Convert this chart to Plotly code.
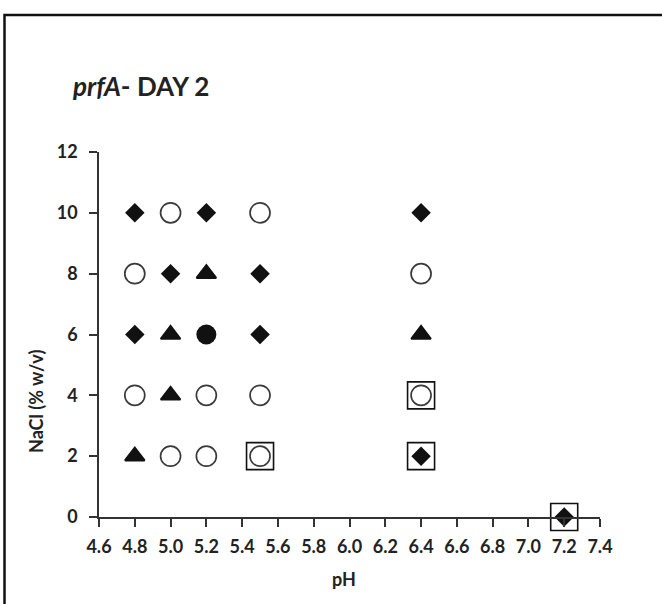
import plotly.graph_objects as go

# Data: pH (x), NaCl % w/v (y)
diamond_ph = [4.8, 4.8, 5.0, 5.2, 5.5, 5.5, 6.4, 6.4, 7.2]
diamond_nacl = [10, 6, 8, 10, 8, 6, 10, 2, 0]

open_circle_ph = [4.8, 4.8, 5.0, 5.0, 5.2, 5.2, 5.5, 5.5, 5.5, 6.4, 6.4]
open_circle_nacl = [8, 4, 10, 2, 4, 2, 10, 4, 2, 8, 4]

triangle_ph = [4.8, 5.0, 5.0, 5.2, 6.4]
triangle_nacl = [2, 6, 4, 8, 6]

filled_circle_ph = [5.2]
filled_circle_nacl = [6]

boxed_ph = [5.5, 6.4, 6.4, 7.2]
boxed_nacl = [2, 4, 2, 0]

x_ticks = [4.6, 4.8, 5.0, 5.2, 5.4, 5.6, 5.8, 6.0, 6.2, 6.4, 6.6, 6.8, 7.0, 7.2, 7.4]
x_tick_labels = [f"{v:.1f}" for v in x_ticks]
y_ticks = [0, 2, 4, 6, 8, 10, 12]

FONT = "Lato, 'Open Sans', sans-serif"
INK = "#222"

# plot area in pixels
L, R, T, B = 99, 600, 152, 517
W, H = 662, 604


def px(xp):
    return (xp - L) / (R - L)


def py(yp):
    return (B - yp) / (B - T)


fig = go.Figure()
fig.add_trace(go.Scatter(x=boxed_ph, y=boxed_nacl, mode="markers", cliponaxis=False,
                         marker=dict(symbol="square-open", size=27, color="#111",
                                     line=dict(width=1.6, color="#111"))))
fig.add_trace(go.Scatter(x=diamond_ph, y=diamond_nacl, mode="markers", cliponaxis=False,
                         marker=dict(symbol="diamond", size=15, color="#111",
                                     line=dict(width=0))))
fig.add_trace(go.Scatter(x=open_circle_ph, y=open_circle_nacl, mode="markers", cliponaxis=False,
                         marker=dict(symbol="circle-open", size=20, color="#3a3a3a",
                                     line=dict(width=1.7, color="#3a3a3a"))))
fig.add_trace(go.Scatter(x=triangle_ph, y=triangle_nacl, mode="markers", cliponaxis=False,
                         marker=dict(symbol="triangle-up", size=17, color="#111",
                                     line=dict(width=2, color="#111"))))
fig.add_trace(go.Scatter(x=filled_circle_ph, y=filled_circle_nacl, mode="markers", cliponaxis=False,
                         marker=dict(symbol="circle", size=20, color="#111",
                                     line=dict(width=0))))

fig.update_layout(
    width=W, height=H,
    margin=dict(l=L, r=W - R, t=T, b=H - B),
    paper_bgcolor="white", plot_bgcolor="white",
    showlegend=False,
    font=dict(family=FONT, size=18, color=INK),
    xaxis=dict(range=[4.6, 7.4], tickvals=x_ticks, ticktext=x_tick_labels,
               showgrid=False, zeroline=False, showline=True, linecolor="#333",
               linewidth=1.5, ticks="outside", ticklen=8, tickcolor="#333",
               tickwidth=1.5, ticklabelstandoff=5,
               tickfont=dict(family=FONT, size=18, color=INK, weight="bold")),
    yaxis=dict(range=[0, 12], tickvals=y_ticks,
               showgrid=False, zeroline=False, showline=True, linecolor="#333",
               linewidth=1.5, ticks="outside", ticklen=8, tickcolor="#333",
               tickwidth=1.5, ticklabelstandoff=8,
               tickfont=dict(family=FONT, size=18, color=INK, weight="bold")),
    annotations=[
        dict(text="<b><i>prfA</i>- DAY 2</b>", xref="paper", yref="paper",
             x=px(70), y=py(86), xanchor="left", yanchor="middle",
             showarrow=False, font=dict(family=FONT, size=26, color=INK)),
        dict(text="<b>pH</b>", xref="paper", yref="paper",
             x=px(344), y=py(579), xanchor="center", yanchor="middle",
             showarrow=False, font=dict(family=FONT, size=18, color=INK)),
        dict(text="<b>NaCl (% w/v)</b>", xref="paper", yref="paper",
             x=px(36), y=py(402), xanchor="center", yanchor="middle", textangle=-90,
             showarrow=False, font=dict(family=FONT, size=18, color=INK)),
    ],
    shapes=[dict(type="rect", xref="paper", yref="paper",
                 x0=px(4.5), x1=px(680),
                 y0=py(620), y1=py(15),
                 line=dict(color="#111", width=2.5), fillcolor="rgba(0,0,0,0)")],
)

fig.write_html("out.html")
